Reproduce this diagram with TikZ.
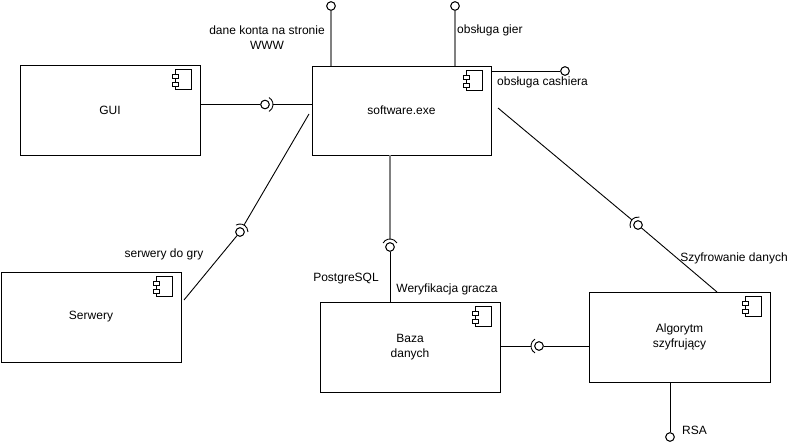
\documentclass[tikz,border=0pt]{standalone}
\usepackage{fontspec}
\setmainfont{Liberation Sans}
\begin{document}
\begin{tikzpicture}[x=1pt,y=-1pt,
  comp/.style={draw=black, line width=0.9pt, fill=white, minimum width=#1, minimum height=90, inner sep=0pt, align=center, font=\fontsize{12}{14.5}\selectfont},
  comp/.default=180,
  ball/.style={circle, draw=black, line width=0.9pt, fill=white, minimum size=8.5, inner sep=0pt},
  conn/.style={draw=black, line width=0.9pt},
  gconn/.style={draw={rgb,255:red,128;green,128;blue,128}, line width=1.8pt},
  lbl/.style={font=\fontsize{12}{15}\selectfont, inner sep=0pt, align=center},
  compicon/.pic={
    \draw[line width=0.8pt, fill=white] (-9,5) rectangle (-25,25);
    \draw[line width=0.8pt, fill=white] (-22,10) rectangle (-28,14);
    \draw[line width=0.8pt, fill=white] (-22,18) rectangle (-28,22);
  }
]
\useasboundingbox (0,0) rectangle (800,443);
\fill[white] (0,0) rectangle (800,443);

% components
\node[comp=180, minimum height=90] (gui) at (110,110) {GUI};
\node[comp=179, minimum height=89] (sw) at (401.5,110.5) {software.exe};
\node[comp=180, minimum height=90] (srv) at (91,317) {Serwery};
\node[comp=180, minimum height=90] (db) at (410,347) {Baza\\danych};
\node[comp=181, minimum height=90] (alg) at (679.5,337) {Algorytm\\szyfrujący};

% component icons
\pic at (gui.north east) {compicon};
\pic at (sw.north east) {compicon};
\pic at (srv.north east) {compicon};
\pic at (db.north east) {compicon};
\pic at (alg.north east) {compicon};

% balls
\node[ball] (b1) at (265,104.5) {};
\node[ball] (b2) at (240,232) {};
\node[ball] (b3) at (390,247) {};
\node[ball] (b4) at (638,225) {};
\node[ball] (b5) at (539,346) {};
\node[ball] (b6) at (670,437) {};
\node[ball] (t1) at (331,6) {};
\node[ball] (t2) at (455,6) {};
\node[ball] (t3) at (565,71) {};

% helper coordinates
\coordinate (s2a) at (184,300);
\coordinate (s2b) at (309,114);
\coordinate (s4a) at (498,108);
\coordinate (s4b) at (717,292);

% sockets tips
\coordinate (k1) at ([shift={(0:8)}]b1.center);
\coordinate (k2) at ([shift={(-60:8)}]b2.center);
\coordinate (k3) at ([shift={(-90:8)}]b3.center);
\coordinate (k4) at ([shift={(-140:8)}]b4.center);
\coordinate (k5) at ([shift={(180:8)}]b5.center);

% GUI - software
\draw[conn] (gui.east |- b1) -- (b1);
\draw[conn] (k1) -- (sw.west |- b1);
\draw[conn] ([shift={(-60:8)}]b1.center) arc[start angle=-60, end angle=60, radius=8];

% Serwery - software
\draw[conn] (s2a) -- (b2);
\draw[conn] (k2) -- (s2b);
\draw[conn] ([shift={(-120:8)}]b2.center) arc[start angle=-120, end angle=0, radius=8];

% Baza - software
\draw[gconn] (sw.south -| b3) -- (k3);
\draw[conn] (b3) -- (db.north -| b3);
\draw[conn] ([shift={(-150:8)}]b3.center) arc[start angle=-150, end angle=-30, radius=8];

% Algorytm - software
\draw[conn] (s4a) -- (k4);
\draw[conn] (b4) -- (s4b);
\draw[conn] ([shift={(-200:8)}]b4.center) arc[start angle=-200, end angle=-80, radius=8];

% Baza - Algorytm
\draw[conn] (db.east |- b5) -- (k5);
\draw[conn] (b5) -- (alg.west |- b5);
\draw[conn] ([shift={(120:8)}]b5.center) arc[start angle=120, end angle=240, radius=8];

% RSA
\draw[conn] (alg.south -| b6) -- (b6);

% top lollipops
\draw[gconn] (sw.north -| t1) -- (t1);
\draw[gconn] (sw.north -| t2) -- (t2);
\draw[conn] (sw.east |- t3) -- (t3);

% redraw balls on top
\foreach \b in {b1,b2,b3,b4,b5,b6,t1,t2,t3} {\node[ball] at (\b) {};}

% labels
\node[lbl] (l1) at (267,37.5) {dane konta na stronie\\WWW};
\node[lbl, anchor=west] (l2) at (457,30) {obsługa gier};
\node[lbl, anchor=west] (l3) at (497,82) {obsługa cashiera};
\node[lbl] (l4) at (164,254.5) {serwery do gry};
\node[lbl] (l5) at (346,279) {PostgreSQL};
\node[lbl] (l6) at (447,289.5) {Weryfikacja gracza};
\node[lbl] (l7) at (734,258.5) {Szyfrowanie danych};
\node[lbl, anchor=west] (l8) at (682,430.5) {RSA};
\end{tikzpicture}
\end{document}
